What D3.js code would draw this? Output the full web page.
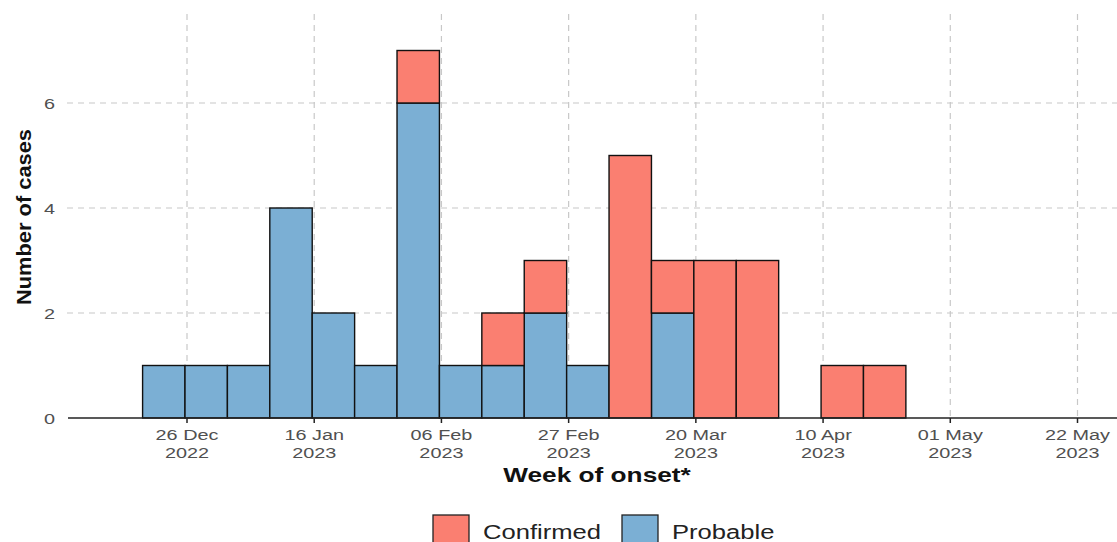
<!DOCTYPE html>
<html>
<head>
<meta charset="utf-8">
<script src="https://cdn.jsdelivr.net/npm/d3@7"></script>
<style>
  html, body { margin: 0; padding: 0; background: #fff; }
  svg { display: block; font-family: "Liberation Sans", Arial, sans-serif; }
</style>
</head>
<body>
<svg id="chart" width="1117" height="542"></svg>
<script>
// ---- Data ----
const weeks = ["2022-12-19","2022-12-26","2023-01-02","2023-01-09","2023-01-16","2023-01-23",
  "2023-01-30","2023-02-06","2023-02-13","2023-02-20","2023-02-27","2023-03-06","2023-03-13",
  "2023-03-20","2023-03-27","2023-04-03","2023-04-10","2023-04-17"];
const probable  = [1,1,1,4,2,1,6,1,1,2,1,0,2,0,0,0,0,0];
const confirmed = [0,0,0,0,0,0,1,0,1,1,0,5,1,3,3,0,1,1];
const tickDates = ["2022-12-26","2023-01-16","2023-02-06","2023-02-27","2023-03-20","2023-04-10","2023-05-01","2023-05-22"];
const tickLabels = [["26 Dec","2022"],["16 Jan","2023"],["06 Feb","2023"],["27 Feb","2023"],
  ["20 Mar","2023"],["10 Apr","2023"],["01 May","2023"],["22 May","2023"]];
const yTicks = [0,2,4,6];
const seriesNames = ["Confirmed","Probable"];
const colors = {Confirmed: "#FA7F71", Probable: "#7BAFD4"};

const SX = 1.28; // horizontal stretch of the reference's text
const parse = d3.utcParse("%Y-%m-%d");
const svg = d3.select("#chart");

function stretchedText(parent, x, y, str, opts) {
  const g = parent.append("g").attr("transform", `translate(${x},${y}) scale(${SX},1)`);
  const t = g.append("text").attr("x", 0).attr("y", 0).text(str)
    .attr("text-anchor", opts.anchor || "start")
    .attr("font-size", opts.size).attr("fill", opts.fill);
  if (opts.bold) t.attr("font-weight", "bold");
  return t;
}

const x = d3.scaleUtc()
  .domain([parse("2022-12-26"), parse("2023-05-22")])
  .range([187, 1077.5]);
const y = d3.scaleLinear().domain([0, 6]).range([418, 103]);
const plotLeft = 67, plotRight = 1117, plotTop = 14, plotBottom = 418;

// grid
const grid = svg.append("g");
grid.selectAll("line.h").data(yTicks.filter(d => d > 0)).join("line")
  .attr("x1", plotLeft).attr("x2", plotRight)
  .attr("y1", d => y(d)).attr("y2", d => y(d))
  .attr("stroke", "#c8c8c8").attr("stroke-width", 1.2).attr("stroke-dasharray", "6,5");
grid.selectAll("line.v").data(tickDates).join("line")
  .attr("x1", d => x(parse(d))).attr("x2", d => x(parse(d)))
  .attr("y1", plotTop).attr("y2", plotBottom)
  .attr("stroke", "#c8c8c8").attr("stroke-width", 1.2).attr("stroke-dasharray", "6,5");

// stacked bars
const rows = weeks.map((w, i) => ({week: parse(w), Probable: probable[i], Confirmed: confirmed[i]}));
const stack = d3.stack().keys(["Probable","Confirmed"])(rows);
const week = 7 * 24 * 3600 * 1000;
svg.append("g").selectAll("g").data(stack).join("g")
  .attr("fill", d => colors[d.key])
  .selectAll("rect").data(d => d.filter(p => p[1] - p[0] > 0)).join("rect")
  .attr("x", d => x(d.data.week) - 2)
  .attr("width", d => x(new Date(d.data.week.getTime() + week)) - x(d.data.week))
  .attr("y", d => y(d[1]))
  .attr("height", d => y(d[0]) - y(d[1]))
  .attr("stroke", "#111").attr("stroke-width", 1.4);

// x axis
const xAxis = svg.append("g");
xAxis.append("line").attr("x1", 68).attr("x2", plotRight)
  .attr("y1", plotBottom).attr("y2", plotBottom).attr("stroke", "#222").attr("stroke-width", 1.5);
xAxis.selectAll("line.tk").data(tickDates).join("line")
  .attr("x1", d => x(parse(d))).attr("x2", d => x(parse(d)))
  .attr("y1", plotBottom).attr("y2", plotBottom + 5)
  .attr("stroke", "#222").attr("stroke-width", 1.5);
tickDates.forEach((d, i) => {
  const px = x(parse(d));
  stretchedText(xAxis, px, 440, tickLabels[i][0], {anchor: "middle", size: "15.5px", fill: "#505050"});
  stretchedText(xAxis, px, 457.5, tickLabels[i][1], {anchor: "middle", size: "15.5px", fill: "#505050"});
});

// y axis labels
const yAxis = svg.append("g");
yTicks.forEach(d => {
  stretchedText(yAxis, 55, y(d) + 5.5, String(d), {anchor: "end", size: "15.5px", fill: "#505050"});
});

// titles
svg.append("text").attr("transform", "translate(31,217) rotate(-90)")
  .attr("text-anchor", "middle").attr("font-weight", "bold").attr("font-size", "20px")
  .attr("fill", "#111").attr("textLength", 176).attr("lengthAdjust", "spacingAndGlyphs")
  .text("Number of cases");
stretchedText(svg, 597, 482, "Week of onset*", {anchor: "middle", size: "20.5px", fill: "#111", bold: true});

// legend
const leg = svg.append("g");
const legX = [433, 622];
seriesNames.forEach((s, i) => {
  leg.append("rect").attr("x", legX[i]).attr("y", 515).attr("width", 36).attr("height", 34)
    .attr("fill", colors[s]).attr("stroke", "#222").attr("stroke-width", 1.3);
  stretchedText(leg, legX[i] + 50, 539, s, {size: "20px", fill: "#222"});
});
</script>
</body>
</html>
